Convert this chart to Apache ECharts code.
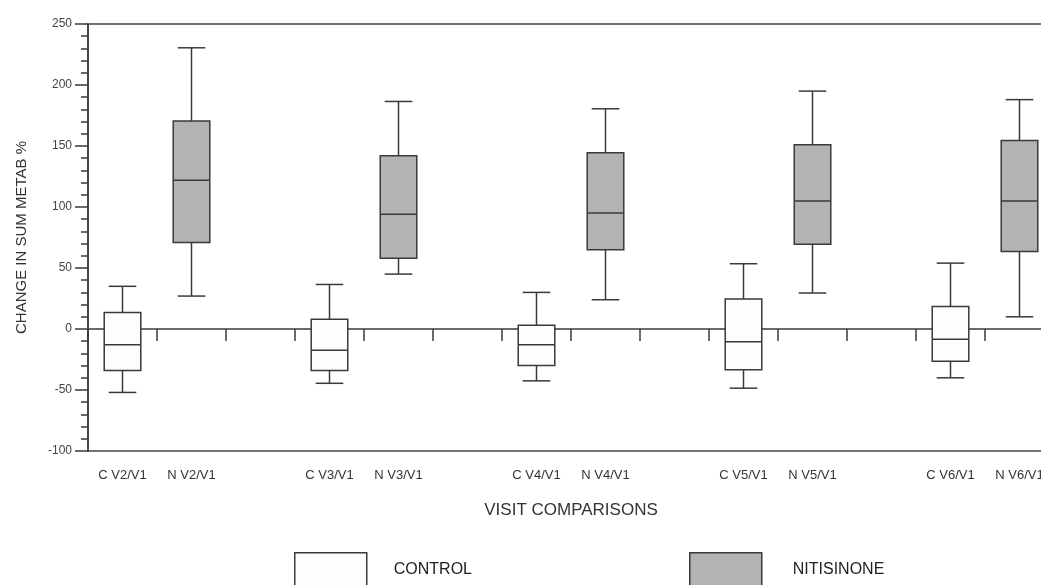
<!DOCTYPE html>
<html>
<head>
<meta charset="utf-8">
<title>Change in sum metab %</title>
<script src="https://cdn.jsdelivr.net/npm/echarts@6/dist/echarts.min.js"></script>
<style>
  html, body { margin: 0; padding: 0; background: #fff; }
  #chart { width: 1041px; height: 585px; }
</style>
</head>
<body>
<div id="chart"></div>
<script>
// category slots, blank ones are the gaps between visit pairs
const categories = ['C V2/V1', 'N V2/V1', ' ', 'C V3/V1', 'N V3/V1', '  ', 'C V4/V1', 'N V4/V1', '   ',
  'C V5/V1', 'N V5/V1', '    ', 'C V6/V1', 'N V6/V1']

const controlCats = ['C V2/V1', 'C V3/V1', 'C V4/V1', 'C V5/V1', 'C V6/V1']
// [low whisker, Q1, median, Q3, high whisker]
const controlBoxes = [
  [-52, -34, -13, 13.5, 35],
  [-44.5, -34, -17.5, 8, 36.5],
  [-42.5, -30, -13, 3, 30],
  [-48.5, -33.5, -10.5, 24.5, 53.5],
  [-40, -26.5, -8.5, 18.5, 54]
]

const nitiCats = ['N V2/V1', 'N V3/V1', 'N V4/V1', 'N V5/V1', 'N V6/V1']
const nitiBoxes = [
  [27, 71, 122, 170.5, 230.5],
  [45, 58, 94, 142, 186.5],
  [24, 65, 95, 144.5, 180.5],
  [29.5, 69.5, 105, 151, 195],
  [10, 63.5, 105, 154.5, 188]
]

const yTicks = { min: -100, max: 250, step: 50 }

const font = "'Liberation Sans', Arial, sans-serif"
const ink = '#3a3a3a'

const toRows = (cats, boxes) => cats.map((c, i) => [categories.indexOf(c)].concat(boxes[i]))

const renderBox = (params, api) => {
  const x = api.value(0)
  const low = api.coord([x, api.value(1)])
  const q1 = api.coord([x, api.value(2)])
  const med = api.coord([x, api.value(3)])
  const q3 = api.coord([x, api.value(4)])
  const high = api.coord([x, api.value(5)])
  const band = api.size([1, 0])[0]
  const bw = band * 0.53
  const cw = band * 0.4
  const cx = low[0]
  const line = { stroke: ink, lineWidth: 1.5 }
  return {
    type: 'group',
    children: [
      { type: 'line', shape: { x1: cx - cw / 2, y1: high[1], x2: cx + cw / 2, y2: high[1] }, style: line },
      { type: 'line', shape: { x1: cx, y1: high[1], x2: cx, y2: q3[1] }, style: line },
      { type: 'line', shape: { x1: cx, y1: q1[1], x2: cx, y2: low[1] }, style: line },
      { type: 'line', shape: { x1: cx - cw / 2, y1: low[1], x2: cx + cw / 2, y2: low[1] }, style: line },
      {
        type: 'rect',
        shape: { x: cx - bw / 2, y: q3[1], width: bw, height: q1[1] - q3[1] },
        style: { fill: api.visual('color'), stroke: ink, lineWidth: 1.5 }
      },
      { type: 'line', shape: { x1: cx - bw / 2, y1: med[1], x2: cx + bw / 2, y2: med[1] }, style: line }
    ]
  }
}

const chart = echarts.init(document.getElementById('chart'))

const option = {
  animation: false,
  textStyle: { fontFamily: font, color: '#333' },
  grid: {
    left: 88,
    top: 24,
    width: 966,
    height: 427,
    outerBoundsMode: 'none',
    show: true,
    borderColor: '#444',
    borderWidth: 1.5
  },
  legend: [
    {
      data: [{ name: 'CONTROL', icon: 'rect', itemStyle: { color: '#fdfdfd', borderColor: ink, borderWidth: 1.5 } }],
      left: 294,
      top: 552,
      padding: 0,
      itemWidth: 72,
      itemHeight: 34,
      selectedMode: false,
      textStyle: { fontFamily: font, fontSize: 16, color: '#222', padding: [0, 0, 4, 22] }
    },
    {
      data: [{ name: 'NITISINONE', icon: 'rect', itemStyle: { color: '#b3b3b3', borderColor: ink, borderWidth: 1.5 } }],
      left: 689,
      top: 552,
      padding: 0,
      itemWidth: 72,
      itemHeight: 34,
      selectedMode: false,
      textStyle: { fontFamily: font, fontSize: 16, color: '#222', padding: [0, 0, 4, 26] }
    }
  ],
  xAxis: {
    type: 'category',
    data: categories,
    boundaryGap: true,
    name: 'VISIT COMPARISONS',
    nameLocation: 'middle',
    nameGap: 51,
    nameTextStyle: { fontFamily: font, fontSize: 17, color: '#333' },
    axisLine: { onZero: true, lineStyle: { color: ink, width: 1.5 } },
    axisTick: { show: true, length: 12, alignWithLabel: false, interval: 0, lineStyle: { color: ink, width: 1.5 } },
    axisLabel: { interval: 0, margin: 18, fontFamily: font, fontSize: 13, color: '#333' },
    splitLine: { show: false }
  },
  yAxis: {
    type: 'value',
    min: yTicks.min,
    max: yTicks.max,
    interval: yTicks.step,
    name: 'CHANGE IN SUM METAB %',
    nameLocation: 'middle',
    nameGap: 59,
    nameTextStyle: { fontFamily: font, fontSize: 15, color: '#333' },
    axisLine: { show: true, lineStyle: { color: ink, width: 1.5 } },
    axisTick: { show: true, length: 13, lineStyle: { color: ink, width: 1.5 } },
    minorTick: { show: true, splitNumber: 5, length: 7, lineStyle: { color: ink, width: 1.5 } },
    axisLabel: { margin: 16, fontFamily: font, fontSize: 12, color: '#444' },
    splitLine: { show: false }
  },
  series: [
    {
      name: 'CONTROL',
      type: 'custom',
      renderItem: renderBox,
      itemStyle: { color: '#fdfdfd' },
      encode: { x: 0, y: [1, 2, 3, 4, 5] },
      data: toRows(controlCats, controlBoxes)
    },
    {
      name: 'NITISINONE',
      type: 'custom',
      renderItem: renderBox,
      itemStyle: { color: '#b3b3b3' },
      encode: { x: 0, y: [1, 2, 3, 4, 5] },
      data: toRows(nitiCats, nitiBoxes)
    }
  ]
}

chart.setOption(option)
</script>
</body>
</html>
